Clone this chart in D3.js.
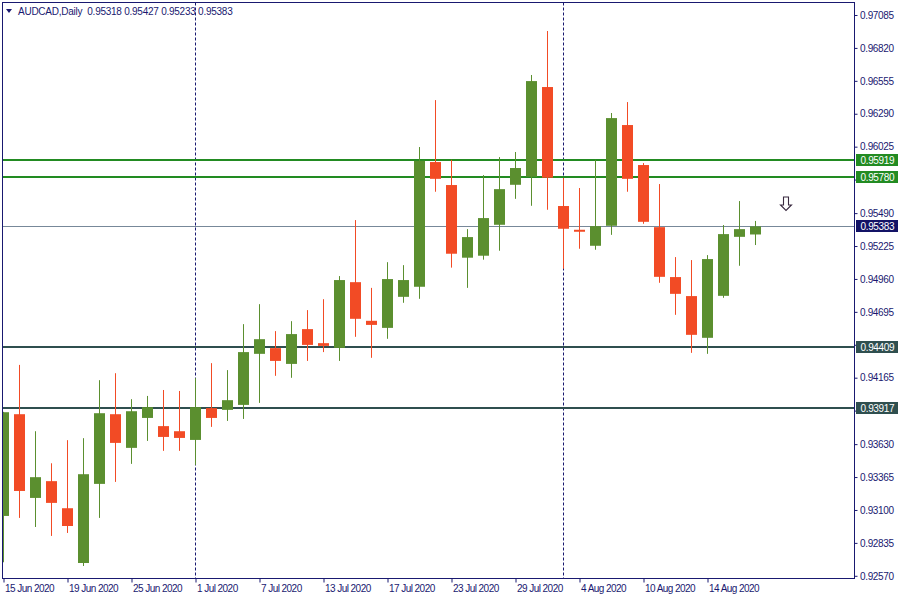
<!DOCTYPE html>
<html><head><meta charset="utf-8">
<script src="https://cdn.jsdelivr.net/npm/d3@7"></script>
<style>
html,body{margin:0;padding:0;background:#fff;}
svg{display:block;}
text{font-family:"Liberation Sans",Arial,sans-serif;}
</style></head>
<body>
<svg id="chart" width="900" height="600"></svg>
<script>
// ---- data ----
const dates = ["15 Jun 2020","16 Jun 2020","17 Jun 2020","18 Jun 2020","19 Jun 2020",
"22 Jun 2020","23 Jun 2020","24 Jun 2020","25 Jun 2020","26 Jun 2020",
"29 Jun 2020","30 Jun 2020","1 Jul 2020","2 Jul 2020","3 Jul 2020",
"6 Jul 2020","7 Jul 2020","8 Jul 2020","9 Jul 2020","10 Jul 2020",
"13 Jul 2020","14 Jul 2020","15 Jul 2020","16 Jul 2020","17 Jul 2020",
"20 Jul 2020","21 Jul 2020","22 Jul 2020","23 Jul 2020","24 Jul 2020",
"27 Jul 2020","28 Jul 2020","29 Jul 2020","30 Jul 2020","31 Jul 2020",
"3 Aug 2020","4 Aug 2020","5 Aug 2020","6 Aug 2020","7 Aug 2020",
"10 Aug 2020","11 Aug 2020","12 Aug 2020","13 Aug 2020","14 Aug 2020",
"17 Aug 2020","18 Aug 2020","19 Aug 2020"];
const opens  = [0.93052,0.93871,0.93197,0.93332,0.93114,0.92673,0.93310,0.93871,0.93600,0.93841,
0.93775,0.93734,0.93664,0.93920,0.93906,0.93946,0.94357,0.94403,0.94276,0.94556,
0.94443,0.94405,0.94934,0.94623,0.94566,0.94816,0.94897,0.95901,0.95716,0.95131,
0.95147,0.95396,0.95718,0.95783,0.96505,0.95547,0.95356,0.95227,0.95388,0.96199,
0.95877,0.95377,0.94975,0.94822,0.94486,0.94824,0.95299,0.95318];
const highs  = [0.93890,0.94268,0.93734,0.93476,0.93662,0.93678,0.94145,0.94201,0.93992,0.94018,
0.94066,0.94058,0.94161,0.94282,0.94226,0.94596,0.94757,0.94540,0.94620,0.94709,
0.94797,0.94983,0.95434,0.94888,0.95095,0.95071,0.96022,0.96400,0.95919,0.95361,
0.95796,0.95941,0.95982,0.96602,0.96956,0.95772,0.95692,0.95919,0.96296,0.96384,
0.95893,0.95724,0.95136,0.95112,0.95152,0.95394,0.95587,0.95427];
const lows   = [0.92679,0.93036,0.92963,0.92891,0.92915,0.92649,0.93036,0.93326,0.93471,0.93656,
0.93576,0.93576,0.93463,0.93769,0.93817,0.93833,0.93962,0.94180,0.94164,0.94300,
0.94371,0.94300,0.94494,0.94325,0.94478,0.94768,0.94800,0.95662,0.95051,0.94888,
0.95115,0.95187,0.95605,0.95549,0.95517,0.95042,0.95203,0.95195,0.95315,0.95662,
0.95404,0.94929,0.94671,0.94365,0.94357,0.94808,0.95066,0.95233];
const closes = [0.93887,0.93253,0.93364,0.93157,0.92971,0.93388,0.93879,0.93640,0.93895,0.93928,
0.93688,0.93680,0.93928,0.93841,0.93984,0.94371,0.94475,0.94300,0.94516,0.94429,
0.94421,0.94951,0.94639,0.94590,0.94959,0.94951,0.95911,0.95766,0.95163,0.95297,
0.95450,0.95683,0.95853,0.96553,0.95775,0.95364,0.95340,0.95385,0.96255,0.95766,
0.95420,0.94977,0.94840,0.94510,0.95120,0.95321,0.95361,0.95383];
const priceTicks = [0.97085,0.96820,0.96555,0.96290,0.96025,0.95760,0.95490,0.95225,0.94960,
0.94695,0.94430,0.94165,0.93900,0.93630,0.93365,0.93100,0.92835,0.92570];
const dateTickLabels = ["15 Jun 2020","19 Jun 2020","25 Jun 2020","1 Jul 2020","7 Jul 2020",
"13 Jul 2020","17 Jul 2020","23 Jul 2020","29 Jul 2020","4 Aug 2020","10 Aug 2020","14 Aug 2020"];
const separatorDates = ["1 Jul 2020","3 Aug 2020"];
const levelValues = [0.95919,0.95780,0.94409,0.93917];
const levelKinds  = ["res","res","sup","sup"];
const currentPrice = 0.95383;
const headerText = "AUDCAD,Daily  0.95318 0.95427 0.95233 0.95383";
const signalDate = "19 Aug 2020";

// ---- layout ----
const svg = d3.select("#chart");
const L = 2.5, T = 2.5, R = 854.5, B = 578.5;
const navy = "#191970";
const green = "#5b8f2f", red = "#f24b25";
const levelColor = {res:"#228b22", sup:"#2f4f4f"};

const y = d3.scaleLinear().domain([0.92570, 0.97085]).range([575.8, 15]);
const x = d3.scaleLinear().domain([0, dates.length - 1]).range([3, 3 + 16*(dates.length - 1)]);
const idx = d => dates.indexOf(d);
const bw = 11;

svg.append("defs").append("clipPath").attr("id","plot")
  .append("rect").attr("x",3).attr("y",3).attr("width",R-3).attr("height",B-3);

const plot = svg.append("g").attr("clip-path","url(#plot)");

// separators
plot.selectAll(".sep").data(separatorDates).join("line")
  .attr("x1", d => Math.round(x(idx(d))) + 0.5).attr("x2", d => Math.round(x(idx(d))) + 0.5)
  .attr("y1", T).attr("y2", B)
  .attr("stroke", navy).attr("stroke-width",1).attr("stroke-dasharray","3,2");

// levels
plot.selectAll(".lvl").data(levelValues).join("line")
  .attr("x1", L).attr("x2", R)
  .attr("y1", d => Math.round(y(d))).attr("y2", d => Math.round(y(d)))
  .attr("stroke", (d,i) => levelColor[levelKinds[i]]).attr("stroke-width",2);

// current price line
plot.append("line").attr("x1",L).attr("x2",R)
  .attr("y1", Math.round(y(currentPrice))+0.5).attr("y2", Math.round(y(currentPrice))+0.5)
  .attr("stroke","#778899").attr("stroke-width",1);

// candles
const candles = dates.map((d,i) => ({d, i, o:opens[i], h:highs[i], l:lows[i], c:closes[i]}));
const cg = plot.selectAll(".candle").data(candles).join("g");
cg.append("line")
  .attr("x1", d => Math.round(x(d.i)) + 0.5).attr("x2", d => Math.round(x(d.i)) + 0.5)
  .attr("y1", d => y(d.h)).attr("y2", d => y(d.l))
  .attr("stroke", d => d.c >= d.o ? green : red).attr("stroke-width",1);
cg.append("rect")
  .attr("x", d => Math.round(x(d.i)) - 5)
  .attr("width", bw)
  .attr("y", d => y(Math.max(d.o,d.c)))
  .attr("height", d => Math.max(2, Math.abs(y(d.o) - y(d.c))))
  .attr("fill", d => d.c >= d.o ? green : red);

// sell arrow
const ax = Math.round(x(idx(signalDate))) + 31, ay = 197;
svg.append("path")
  .attr("d", `M${ax-2.5},${ay} L${ax+2.5},${ay} L${ax+2.5},${ay+8} L${ax+5.5},${ay+8} L${ax},${ay+13.5} L${ax-5.5},${ay+8} L${ax-2.5},${ay+8} Z`)
  .attr("fill","#fff").attr("stroke","#3a2a40").attr("stroke-width",1.1);

// frame
svg.append("rect").attr("x",L).attr("y",T).attr("width",R-L).attr("height",B-T)
  .attr("fill","none").attr("stroke",navy).attr("stroke-width",1);

// right axis (labels hidden under level boxes are left out, their tick marks kept)
const hidden = v => levelValues.concat([currentPrice]).some(l => Math.abs(y(l) - y(v)) < 11);
const yAxis = d3.axisRight(y).tickValues(priceTicks).tickSize(3).tickPadding(3)
  .tickFormat(d => hidden(d) ? "" : d3.format(".5f")(d));
const ya = svg.append("g").attr("transform",`translate(${R},0)`).call(yAxis);
ya.select(".domain").remove();
ya.selectAll("line").attr("stroke",navy);
ya.selectAll("text").attr("fill",navy).attr("font-size","10px").attr("letter-spacing","-0.35px")
  .attr("x",5.5);

// bottom axis
const xAxis = d3.axisBottom(x).tickValues(dateTickLabels.map(idx)).tickSize(4)
  .tickFormat(i => dates[i]);
const xa = svg.append("g").attr("transform",`translate(0.5,${B})`).call(xAxis);
xa.select(".domain").remove();
xa.selectAll("line").attr("stroke",navy);
xa.selectAll("text").attr("fill",navy).attr("font-size","10px").attr("letter-spacing","-0.55px")
  .attr("text-anchor","start").attr("x",1).attr("dy",null).attr("y",13.5);

// level labels
const labels = levelValues.map((v,i) => ({v, fill: levelColor[levelKinds[i]]}))
  .concat([{v: currentPrice, fill: "#131366"}]);
const lg = svg.selectAll(".lab").data(labels).join("g")
  .attr("transform", d => `translate(856,${Math.round(y(d.v))})`);
lg.append("rect").attr("x",0).attr("y",-6).attr("width",42).attr("height",12).attr("fill", d => d.fill);
lg.append("text").attr("x",4.5).attr("y",4).attr("fill","#fff").attr("font-size","10px")
  .attr("letter-spacing","-0.35px").text(d => d3.format(".5f")(d.v));

// header
svg.append("path").attr("d","M6,9 L12,9 L9,13 Z").attr("fill",navy);
svg.append("text").attr("x",18).attr("y",14.5).attr("fill",navy).attr("font-size","10px")
  .attr("letter-spacing","-0.25px").attr("xml:space","preserve").style("white-space","pre").text(headerText);
</script>
</body></html>
